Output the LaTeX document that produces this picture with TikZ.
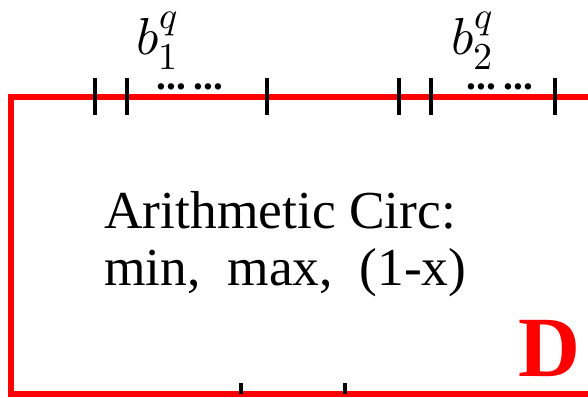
\documentclass[tikz,border=0pt]{standalone}
\usepackage{fontspec}
\usepackage{unicode-math}
\setmainfont{Liberation Serif}
\DeclareMathSizes{37}{37}{27}{20}
\usetikzlibrary{positioning}

\begin{document}
\begin{tikzpicture}[
  x=0.025cm, y=-0.025cm,
  frame/.style={draw=red, line width=4.3pt, line join=miter},
  tick/.style={draw=black, line width=2.3pt},
  blabel/.style={anchor=base west, inner sep=0pt, font=\fontsize{37}{37}\selectfont},
  dotrow/.style={anchor=base, inner sep=0pt, text height=6pt, text depth=0pt, font=\fontsize{28}{28}\selectfont\bfseries},
  body/.style={anchor=base west, inner sep=0pt, align=left, font=\fontsize{38}{40.5}\selectfont},
  tag/.style={anchor=base east, inner sep=0pt, text=red, font=\fontsize{61}{61}\selectfont\bfseries}
]
  \useasboundingbox (0,0) rectangle (588,397);
  \clip (0,0) rectangle (588,397);

  % Frame (right side runs off the picture)
  \draw[frame] (11,97) rectangle (640,394);

  % Ticks on the top edge
  \foreach \tx in {95,127,267,399,431,555}
    \draw[tick] (\tx,78) -- (\tx,115);
  % Ticks on the bottom edge
  \foreach \tx in {241,345}
    \draw[tick] (\tx,383) -- (\tx,394);

  % Labels above the ticks
  \node[blabel] (b1) at (136,54) {$b_1^q$};
  \node[blabel] (b2) at (451,54) {$b_2^q$};
  \node[dotrow] (d1) at (190,89) {...\kern5.4pt...};
  \node[dotrow] (d2) at (500,89) {...\kern5.4pt...};

  % Inner text
  \node[body] (circ) at (104,285) {Arithmetic Circ:\\min,\ \ max,\ \ (1-x)};
  \node[tag] (tagD) at (581,376) {D};
\end{tikzpicture}
\end{document}
